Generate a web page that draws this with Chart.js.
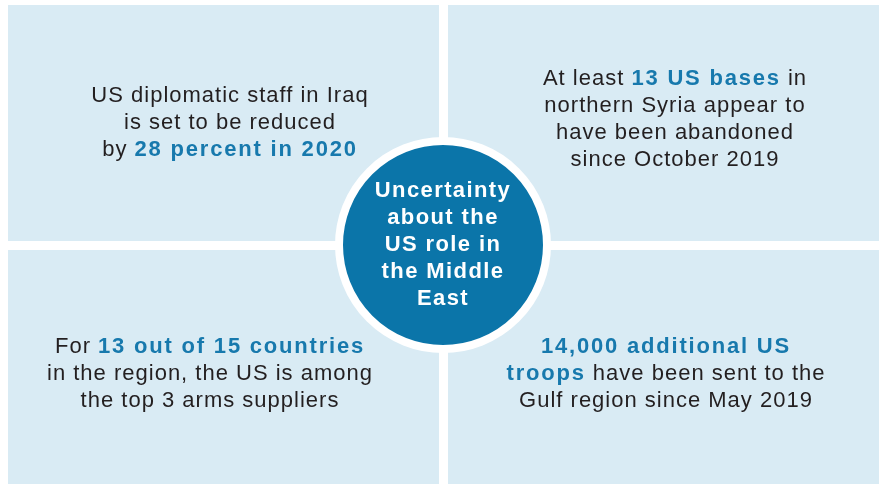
<!DOCTYPE html>
<html>
<head>
<meta charset="utf-8">
<script src="https://cdn.jsdelivr.net/npm/chart.js@4"></script>
<style>
  html, body { margin: 0; padding: 0; background: #ffffff; }
  #wrap { width: 880px; height: 484px; }
</style>
</head>
<body>
<div id="wrap"><canvas id="c" width="880" height="484"></canvas></div>
<script>
// ---- content (text of each quadrant; **...** marks highlighted bold figures) ----
const quadrants = ['top-left', 'top-right', 'bottom-left', 'bottom-right'];
const topLeftLines = ['US diplomatic staff in Iraq', 'is set to be reduced', 'by **28 percent in 2020**'];
const topRightLines = ['At least **13 US bases** in', 'northern Syria appear to', 'have been abandoned', 'since October 2019'];
const bottomLeftLines = ['For **13 out of 15 countries**', 'in the region, the US is among', 'the top 3 arms suppliers'];
const bottomRightLines = ['**14,000 additional US**', '**troops** have been sent to the', 'Gulf region since May 2019'];
const centreLines = ['Uncertainty', 'about the', 'US role in', 'the Middle', 'East'];

// ---- layout (pixel space of the hidden linear scales) ----
const panelBoxes = {
  'top-left':     { x0: 8,   x1: 439, y0: 5,   y1: 241, cx: 230, cy: 96,  lines: topLeftLines },
  'top-right':    { x0: 448, x1: 879, y0: 5,   y1: 241, cx: 675, cy: 79,  lines: topRightLines },
  'bottom-left':  { x0: 8,   x1: 439, y0: 250, y1: 484, cx: 210, cy: 347, lines: bottomLeftLines },
  'bottom-right': { x0: 448, x1: 879, y0: 250, y1: 484, cx: 666, cy: 347, lines: bottomRightLines }
};
const centre = { x: 443, y: 245 };
const LINE_H = 27;
const COL_PANEL = '#d9ebf4';
const COL_BLUE = '#0b75a9';
const COL_HL = '#1779ad';
const COL_TEXT = '#231f20';
const FONT = '"Liberation Sans", Arial, Helvetica, sans-serif';

function parseLine(line) {
  const segs = [];
  const parts = line.split('**');
  parts.forEach((p, i) => { if (p.length) segs.push({ t: p, b: i % 2 === 1 }); });
  return segs;
}

function drawRich(ctx, line, cx, cy, opts) {
  const segs = parseLine(line);
  let total = 0;
  segs.forEach(s => {
    ctx.font = (s.b ? 'bold ' : '') + opts.size + 'px ' + FONT;
    ctx.letterSpacing = (s.b ? opts.lsBold : opts.ls) + 'px';
    s.w = ctx.measureText(s.t).width;
    total += s.w;
  });
  let x = cx - total / 2;
  segs.forEach(s => {
    ctx.font = (s.b ? 'bold ' : '') + opts.size + 'px ' + FONT;
    ctx.letterSpacing = (s.b ? opts.lsBold : opts.ls) + 'px';
    ctx.fillStyle = s.b ? opts.hl : opts.color;
    ctx.fillText(s.t, x, cy);
    x += s.w;
  });
}

const infographic = {
  id: 'infographic',
  beforeDatasetsDraw(chart) {
    const { ctx, scales: { x, y } } = chart;
    ctx.save();
    ctx.fillStyle = COL_PANEL;
    quadrants.forEach(q => {
      const b = panelBoxes[q];
      const px0 = x.getPixelForValue(b.x0), px1 = x.getPixelForValue(b.x1);
      const py0 = y.getPixelForValue(b.y0), py1 = y.getPixelForValue(b.y1);
      ctx.fillRect(px0, py0, px1 - px0, py1 - py0);
    });
    ctx.textBaseline = 'middle';
    ctx.textAlign = 'left';
    quadrants.forEach(q => {
      const b = panelBoxes[q];
      b.lines.forEach((ln, i) => {
        drawRich(ctx, ln, x.getPixelForValue(b.cx), y.getPixelForValue(b.cy + i * LINE_H),
          { size: 22, ls: 1.0, lsBold: 1.8, color: COL_TEXT, hl: COL_HL });
      });
    });
    ctx.restore();
  },
  afterDatasetsDraw(chart) {
    const { ctx, scales: { x, y } } = chart;
    ctx.save();
    ctx.textBaseline = 'middle';
    ctx.textAlign = 'left';
    const start = centre.y - (centreLines.length - 1) * LINE_H / 2;
    centreLines.forEach((ln, i) => {
      drawRich(ctx, '**' + ln + '**', x.getPixelForValue(centre.x), y.getPixelForValue(start + i * LINE_H),
        { size: 22, ls: 1.4, lsBold: 1.4, color: '#ffffff', hl: '#ffffff' });
    });
    ctx.restore();
  }
};

new Chart(document.getElementById('c'), {
  type: 'scatter',
  data: {
    datasets: [{
      label: 'Uncertainty about the US role in the Middle East',
      data: [{ x: centre.x, y: centre.y }],
      pointRadius: 104,
      pointHoverRadius: 104,
      backgroundColor: COL_BLUE,
      borderColor: '#ffffff',
      borderWidth: 8,
      pointHoverBorderWidth: 8,
      clip: false
    }]
  },
  options: {
    responsive: false,
    animation: false,
    events: [],
    layout: { padding: 0, autoPadding: false },
    plugins: { legend: { display: false }, tooltip: { enabled: false } },
    scales: {
      x: { type: 'linear', min: 0, max: 880, display: false },
      y: { type: 'linear', min: 0, max: 484, reverse: true, display: false }
    }
  },
  plugins: [infographic]
});
</script>
</body>
</html>
